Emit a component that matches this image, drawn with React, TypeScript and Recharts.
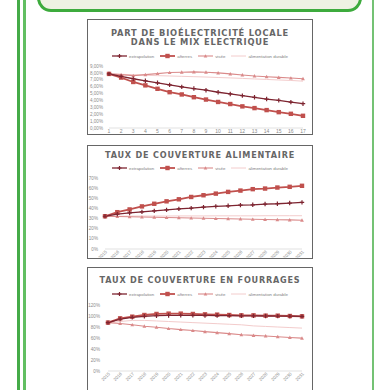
import React from 'react';
import { LineChart, Line, XAxis, YAxis } from 'recharts';

// scenario names, same order in every panel
const seriesNames = ['extrapolation', 'afterres', 'visée', 'alimentation durable'];

// panel 1 : part de bioélectricité locale (%)
const bioSteps = ['1', '2', '3', '4', '5', '6', '7', '8', '9', '10', '11', '12', '13', '14', '15', '16', '17'];
const bioExtrapolation = [7.85, 7.5, 7.15, 6.85, 6.56, 6.26, 5.97, 5.73, 5.49, 5.19, 4.94, 4.7, 4.46, 4.2, 4.01, 3.76, 3.53];
const bioAfterres = [7.85, 7.32, 6.68, 6.19, 5.69, 5.2, 4.87, 4.47, 4.13, 3.78, 3.48, 3.14, 2.89, 2.6, 2.3, 2.06, 1.77];
const bioVisee = [7.85, 7.75, 7.6, 7.75, 7.9, 8.05, 8.1, 8.15, 8.1, 8.0, 7.85, 7.7, 7.55, 7.45, 7.35, 7.25, 7.15];
const bioAlimentation = [7.85, 7.8, 7.72, 7.65, 7.6, 7.55, 7.5, 7.45, 7.4, 7.33, 7.27, 7.2, 7.12, 7.05, 6.97, 6.9, 6.8];
const bioTicks = [0, 1, 2, 3, 4, 5, 6, 7, 8, 9];

// panel 2 : taux de couverture alimentaire (%)
const years = ['2015', '2016', '2017', '2018', '2019', '2020', '2021', '2022', '2023', '2024', '2025', '2026', '2027', '2028', '2029', '2030', '2031'];
const foodExtrapolation = [32.3, 34.3, 35.6, 36.6, 37.6, 38.6, 39.6, 40.3, 41.3, 42, 42.6, 43.3, 43.6, 44.3, 44.6, 45.3, 46];
const foodAfterres = [32.3, 36.3, 39, 42, 44.6, 47, 49, 51.3, 53, 54.6, 56.3, 57.6, 59, 59.6, 60.6, 61.3, 62.3];
const foodVisee = [32.3, 32, 31.8, 31.5, 31.3, 31, 30.8, 30.5, 30.3, 30, 29.8, 29.6, 29.3, 29.1, 28.9, 28.7, 28.4];
const foodAlimentation = [32.3, 32.4, 32.4, 32.5, 32.5, 32.5, 32.6, 32.6, 32.6, 32.7, 32.7, 32.7, 32.7, 32.8, 32.8, 32.8, 32.8];
const foodTicks = [0, 10, 20, 30, 40, 50, 60, 70];

// panel 3 : taux de couverture en fourrages (%)
const forageExtrapolation = [88, 94.5, 97.5, 99.5, 100.5, 101, 101.2, 101.2, 101, 100.8, 100.6, 100.4, 100.2, 100, 99.8, 99.6, 99.4];
const forageAfterres = [88, 95.7, 98.8, 101.8, 103.7, 104.3, 104.3, 103.7, 103, 102.5, 101.8, 101.2, 101.2, 100.6, 100.6, 100, 99.4];
const forageVisee = [88, 86.4, 84, 81.5, 79.6, 77.2, 75.3, 73.5, 71.6, 69.8, 67.9, 66, 64.8, 63.6, 62.3, 61, 59.8];
const forageAlimentation = [88, 90, 92, 92, 91, 90, 89, 88, 87, 86, 85, 84, 82, 81, 80, 79, 78];
const forageTicks = [0, 20, 40, 60, 80, 100, 120];

const COLOR_A = '#7d2430';
const COLOR_B = '#c0504d';
const COLOR_C = '#da8a8a';
const COLOR_D = '#f3cccc';
const FONT = '"Liberation Sans", Arial, sans-serif';

const CrossDot = (p: any) => {
  if (p.cx == null || p.cy == null) return <g key={`a${p.index}`} />;
  const s = 2.2;
  return (
    <path
      key={`a${p.index}`}
      d={`M${p.cx - s},${p.cy}H${p.cx + s}M${p.cx},${p.cy - s}V${p.cy + s}`}
      stroke={COLOR_A}
      strokeWidth={1.2}
    />
  );
};

const SquareDot = (p: any) => {
  if (p.cx == null || p.cy == null) return <g key={`b${p.index}`} />;
  return <rect key={`b${p.index}`} x={p.cx - 2.2} y={p.cy - 2.2} width={4.4} height={4.4} fill={COLOR_B} />;
};

const TriangleDot = (p: any) => {
  if (p.cx == null || p.cy == null) return <g key={`c${p.index}`} />;
  const s = 1.9;
  return (
    <path
      key={`c${p.index}`}
      d={`M${p.cx},${p.cy - s}L${p.cx + s},${p.cy + s * 0.8}L${p.cx - s},${p.cy + s * 0.8}Z`}
      fill={COLOR_C}
    />
  );
};

const LegendMark = ({ kind }: { kind: number }) => {
  const colors = [COLOR_A, COLOR_B, COLOR_C, COLOR_D];
  const widths = [1.3, 1.8, 1.1, 1];
  return (
    <svg width={15} height={6} style={{ display: 'block' }}>
      <line x1={0} y1={3} x2={15} y2={3} stroke={colors[kind]} strokeWidth={widths[kind]} />
      {kind === 0 && <path d="M5.5,3H9.5M7.5,1V5" stroke={COLOR_A} strokeWidth={1.2} />}
      {kind === 1 && <rect x={5.3} y={0.8} width={4.4} height={4.4} fill={COLOR_B} />}
      {kind === 2 && <path d="M7.5,1.2L9.3,4.5L5.7,4.5Z" fill={COLOR_C} />}
    </svg>
  );
};

type PanelProps = {
  top: number;
  height: number;
  chartHeight: number;
  titleLines: string[];
  titleTop: number;
  titleSize: number;
  legendTop: number;
  categories: string[];
  a: number[];
  b: number[];
  c: number[];
  d: number[];
  ticks: number[];
  format: (v: number) => string;
  marginTop: number;
  marginRight: number;
  yWidth: number;
  yTickMargin: number;
  xHeight: number;
  angled: boolean;
};

const Panel = (props: PanelProps) => {
  const data = props.categories.map((cat, i) => ({
    cat,
    a: props.a[i],
    b: props.b[i],
    c: props.c[i],
    d: props.d[i],
  }));
  const yMax = props.ticks[props.ticks.length - 1];
  return (
    <div
      style={{
        position: 'absolute',
        left: 87,
        top: props.top,
        width: 226,
        height: props.height,
        boxSizing: 'border-box',
        border: '1px solid #666',
        background: '#fff',
        overflow: 'hidden',
      }}
    >
      <div
        style={{
          position: 'absolute',
          left: 0,
          right: 0,
          top: props.titleTop,
          textAlign: 'center',
          fontFamily: '"DejaVu Sans", sans-serif',
          fontWeight: 700,
          fontSize: props.titleSize,
          lineHeight: '9px',
          letterSpacing: 0.8,
          color: '#666',
          whiteSpace: 'nowrap',
        }}
      >
        {props.titleLines.map((l) => (
          <div key={l}>{l}</div>
        ))}
      </div>
      <div
        style={{
          position: 'absolute',
          left: 0,
          right: 0,
          top: props.legendTop - 3,
          height: 6,
          display: 'flex',
          justifyContent: 'center',
          alignItems: 'center',
          gap: 6,
          fontFamily: FONT,
          fontSize: 4.4,
          color: '#7f7f7f',
        }}
      >
        {seriesNames.map((n, i) => (
          <div key={n} style={{ display: 'flex', alignItems: 'center', gap: 2 }}>
            <LegendMark kind={i} />
            <span>{n}</span>
          </div>
        ))}
      </div>
      <div style={{ position: 'absolute', left: 0, top: 0 }}>
        <LineChart
          width={224}
          height={props.chartHeight}
          data={data}
          margin={{ top: props.marginTop, right: props.marginRight, bottom: 0, left: 0 }}
        >
          <XAxis
            dataKey="cat"
            height={props.xHeight}
            interval={0}
            tickLine={false}
            tickSize={0}
            tickMargin={1}
            axisLine={{ stroke: '#d9d9d9', strokeWidth: 0.8 }}
            angle={props.angled ? -45 : 0}
            textAnchor={props.angled ? 'end' : 'middle'}
            tick={{ fontSize: props.angled ? 4.5 : 5, fill: '#8c8c8c', fontFamily: FONT }}
          />
          <YAxis
            width={props.yWidth}
            domain={[0, yMax]}
            ticks={props.ticks}
            interval={0}
            tickFormatter={props.format}
            axisLine={false}
            tickLine={false}
            tickSize={0}
            tickMargin={props.yTickMargin}
            tick={{ fontSize: 4.6, fill: '#8c8c8c', fontFamily: FONT }}
          />
          <Line
            dataKey="d"
            stroke={COLOR_D}
            strokeWidth={1}
            dot={false}
            activeDot={false}
            isAnimationActive={false}
          />
          <Line
            dataKey="c"
            stroke={COLOR_C}
            strokeWidth={1.1}
            dot={TriangleDot}
            activeDot={false}
            isAnimationActive={false}
          />
          <Line
            dataKey="b"
            stroke={COLOR_B}
            strokeWidth={1.8}
            dot={SquareDot}
            activeDot={false}
            isAnimationActive={false}
          />
          <Line
            dataKey="a"
            stroke={COLOR_A}
            strokeWidth={1.3}
            dot={CrossDot}
            activeDot={false}
            isAnimationActive={false}
          />
        </LineChart>
      </div>
    </div>
  );
};

const pctDecimal = (v: number) => v.toFixed(2).replace('.', ',') + '%';
const pctInt = (v: number) => `${v}%`;

export default function App() {
  return (
    <div
      style={{
        position: 'absolute',
        left: 0,
        top: 0,
        width: 374,
        height: 390,
        overflow: 'hidden',
        background: '#fff',
      }}
    >
      {/* frame lines */}
      <div style={{ position: 'absolute', left: 17, top: 0, width: 3, height: 390, background: '#45ab48' }} />
      <div style={{ position: 'absolute', left: 23, top: 0, width: 3, height: 390, background: '#62bf62' }} />
      <div style={{ position: 'absolute', left: 372, top: 0, width: 1.5, height: 390, background: '#74c274' }} />
      {/* header box, cut by the top of the page */}
      <div
        style={{
          position: 'absolute',
          left: 37,
          top: -34,
          width: 325,
          height: 46,
          boxSizing: 'border-box',
          border: '3px solid #3dab3d',
          borderRadius: 14,
          background: '#eef2e3',
        }}
      />
      <Panel
        top={19}
        height={116}
        chartHeight={114}
        titleLines={['PART DE BIOÉLECTRICITÉ LOCALE', 'DANS LE MIX ELECTRIQUE']}
        titleTop={8.5}
        titleSize={8.3}
        legendTop={36}
        categories={bioSteps}
        a={bioExtrapolation}
        b={bioAfterres}
        c={bioVisee}
        d={bioAlimentation}
        ticks={bioTicks}
        format={pctDecimal}
        marginTop={46}
        marginRight={9}
        yWidth={21}
        yTickMargin={6}
        xHeight={6}
        angled={false}
      />
      <Panel
        top={145}
        height={114}
        chartHeight={130}
        titleLines={['TAUX DE COUVERTURE ALIMENTAIRE']}
        titleTop={5}
        titleSize={8.1}
        legendTop={22}
        categories={years}
        a={foodExtrapolation}
        b={foodAfterres}
        c={foodVisee}
        d={foodAlimentation}
        ticks={foodTicks}
        format={pctInt}
        marginTop={32}
        marginRight={10}
        yWidth={17}
        yTickMargin={7}
        xHeight={27}
        angled={true}
      />
      <Panel
        top={267}
        height={130}
        chartHeight={124}
        titleLines={['TAUX DE COUVERTURE EN FOURRAGES']}
        titleTop={8}
        titleSize={8.1}
        legendTop={26}
        categories={years}
        a={forageExtrapolation}
        b={forageAfterres}
        c={forageVisee}
        d={forageAlimentation}
        ticks={forageTicks}
        format={pctInt}
        marginTop={37}
        marginRight={10}
        yWidth={20}
        yTickMargin={8}
        xHeight={21}
        angled={true}
      />
    </div>
  );
}
